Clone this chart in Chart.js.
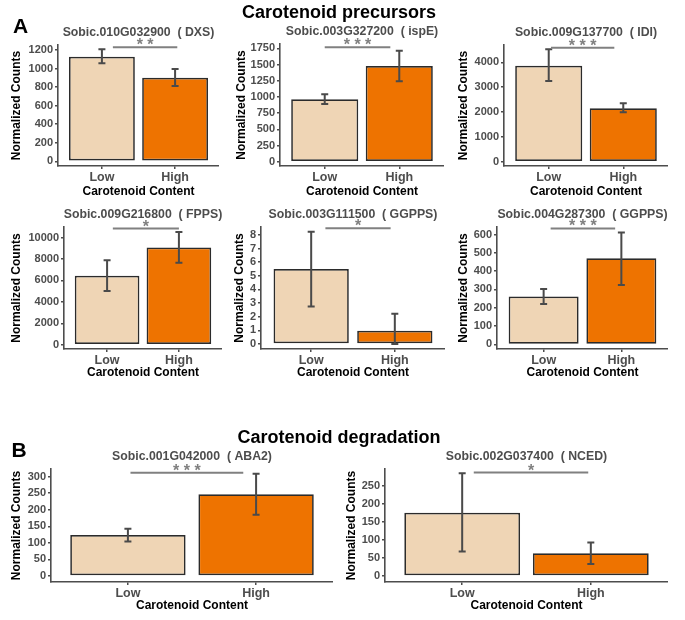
<!DOCTYPE html>
<html><head><meta charset="utf-8">
<script src="https://cdn.jsdelivr.net/npm/chart.js@4.4.1/dist/chart.umd.min.js"></script>
<style>
html,body{margin:0;padding:0;background:#fff;}
body{width:685px;height:620px;position:relative;overflow:hidden;font-family:"Liberation Sans",Arial,sans-serif;}
canvas{position:absolute;}
.lbl{position:absolute;font-weight:bold;line-height:1;white-space:nowrap;color:#000;z-index:2;}
</style></head><body>
<div class="lbl" style="left:13px;top:15px;font-size:21px">A</div>
<div class="lbl" style="left:11.5px;top:439px;font-size:21px">B</div>
<div class="lbl" style="top:3px;left:0;width:678px;text-align:center;font-size:18px">Carotenoid precursors</div>
<div class="lbl" style="top:427.7px;left:0;width:678px;text-align:center;font-size:18px">Carotenoid degradation</div>
<script>
// ---------- data ----------
const categories = ['Low', 'High'];
const genes = ['Sobic.010G032900','Sobic.003G327200','Sobic.009G137700','Sobic.009G216800','Sobic.003G111500','Sobic.004G287300','Sobic.001G042000','Sobic.002G037400'];
const geneNames = ['DXS','ispE','IDI','FPPS','GGPPS','GGPPS','ABA2','NCED'];
const lowMean    = [1127, 962, 3863, 6435, 5.5, 261, 124, 175];
const lowErrMin  = [1056, 890, 3247, 5014, 2.75, 221, 104, 68];
const lowErrMax  = [1207, 1040, 4523, 7892, 8.24, 303, 143, 284];
const highMean   = [901, 1475, 2149, 9071, 0.97, 470, 247, 63];
const highErrMin = [812, 1240, 1988, 7642, 0, 324, 185, 33];
const highErrMax = [995, 1710, 2350, 10520, 2.22, 611, 309, 93];
const significance = ['* *','* * *','* * *','*','*','* * *','* * *','*'];
const bracketLevel = [1229, 1765, 4588, 10836, 8.49, 633, 312, 286];
const bracketFrom = [1.15, 1.0, 1.03, 1.08, 1.17, 1.09, 1.02, 1.09];
const bracketTo   = [2.03, 1.88, 1.88, 2.0, 1.95, 1.92, 1.9, 1.98];
const yMin = [-51, -66, -173, -399, -0.37, -25, -18, -16.6];
const yMax = [1254, 1816, 4696, 10984, 8.58, 641, 323, 296];
const yTicks = [
  [0,200,400,600,800,1000,1200],
  [0,250,500,750,1000,1250,1500,1750],
  [0,1000,2000,3000,4000],
  [0,2000,4000,6000,8000,10000],
  [0,1,2,3,4,5,6,7,8],
  [0,100,200,300,400,500,600],
  [0,50,100,150,200,250,300],
  [0,50,100,150,200,250]
];
const yTitle = 'Normalized Counts';
const xTitle = 'Carotenoid Content';

// ---------- layout (page px): plot left, top, right, bottom, canvas left, canvas bottom ----------
const boxes = [
  [58,45,219,166,9,199],
  [280,44,444,166,234,199],
  [504,45,668,166,456,199],
  [64,227,222,349,9,380],
  [261,227,445,349,232,380],
  [497,227,668,349,456,380],
  [51,469,333,582,9,613],
  [385,469,668,582,344,613]
];
const PADTOP = 26;
const FONT = '"Liberation Sans", Arial, sans-serif';
Chart.defaults.font.family = FONT;

const annot = {
  id: 'annot',
  afterDatasetsDraw(chart, args, opts) {
    const i = opts.idx;
    const xs = chart.scales.x, ys = chart.scales.y, ctx = chart.ctx;
    ctx.save();
    ctx.strokeStyle = '#4a4a4a'; ctx.lineWidth = 2;
    const errs = [[lowErrMin[i], lowErrMax[i]], [highErrMin[i], highErrMax[i]]];
    errs.forEach((e, k) => {
      const x = xs.getPixelForValue(k + 1);
      const y1 = ys.getPixelForValue(e[0]), y2 = ys.getPixelForValue(e[1]);
      ctx.beginPath();
      ctx.moveTo(x, y1); ctx.lineTo(x, y2);
      ctx.moveTo(x - 3.5, y1); ctx.lineTo(x + 3.5, y1);
      ctx.moveTo(x - 3.5, y2); ctx.lineTo(x + 3.5, y2);
      ctx.stroke();
    });
    const by = ys.getPixelForValue(bracketLevel[i]);
    const bx1 = xs.getPixelForValue(bracketFrom[i]), bx2 = xs.getPixelForValue(bracketTo[i]);
    ctx.strokeStyle = '#808080'; ctx.lineWidth = 2;
    ctx.beginPath(); ctx.moveTo(bx1, by); ctx.lineTo(bx2, by); ctx.stroke();
    ctx.fillStyle = '#808080'; ctx.font = 'bold 16px ' + FONT;
    ctx.textAlign = 'center'; ctx.textBaseline = 'alphabetic';
    ctx.fillText(significance[i], (bx1 + bx2) / 2, by + 3);
    ctx.fillStyle = '#4d4d4d'; ctx.font = 'bold 12.3px ' + FONT;
    ctx.fillText(genes[i] + '  ( ' + geneNames[i] + ')', (chart.chartArea.left + chart.chartArea.right) / 2, chart.chartArea.top - 9);
    ctx.restore();
  }
};

boxes.forEach((b, i) => {
  const [L, T, R, B, cx, cb] = b;
  const cy = T - PADTOP;
  const cv = document.createElement('canvas');
  const w = R - cx, h = cb - cy;
  cv.width = w; cv.height = h;
  cv.style.left = cx + 'px'; cv.style.top = cy + 'px';
  cv.style.width = w + 'px'; cv.style.height = h + 'px';
  document.body.appendChild(cv);
  const yw = L - cx, xh = cb - B;
  const axisCol = '#4d4d4d';
  new Chart(cv, {
    type: 'bar',
    data: {
      datasets: [{
        data: [{x: 1, y: lowMean[i]}, {x: 2, y: highMean[i]}],
        backgroundColor: ['#EFD5B5', '#EE7300'],
        borderColor: '#2b2b2b',
        borderWidth: 1.7,
        borderSkipped: false,
        barPercentage: 0.9,
        categoryPercentage: 1.0
      }]
    },
    options: {
      responsive: false,
      maintainAspectRatio: false,
      animation: false,
      layout: {padding: {top: PADTOP, left: 0, right: 0, bottom: 0}},
      plugins: {legend: {display: false}, tooltip: {enabled: false}, title: {display: false}, annot: {idx: i}},
      scales: {
        x: {
          type: 'linear', min: 0.4, max: 2.6, offset: false,
          afterBuildTicks: s => { s.ticks = categories.map((c, k) => ({value: k + 1})); },
          afterFit: s => { s.height = xh; },
          ticks: {
            callback: v => categories[Math.round(v) - 1],
            font: {size: 12.5, weight: 'bold'}, color: '#4d4d4d', padding: 1,
            autoSkip: false, maxRotation: 0, minRotation: 0
          },
          grid: {display: true, offset: false, drawOnChartArea: false, drawTicks: true, tickLength: 3, color: axisCol, lineWidth: 1.5},
          border: {display: true, color: axisCol, width: 1.6},
          title: {display: true, text: xTitle, color: '#000', font: {size: 12, weight: 'bold'}, padding: 0}
        },
        y: {
          type: 'linear', min: yMin[i], max: yMax[i],
          afterBuildTicks: s => { s.ticks = yTicks[i].map(v => ({value: v})); },
          afterFit: s => { s.width = yw; },
          ticks: {
            callback: v => String(v),
            font: {size: 11, weight: 'bold'}, color: '#4d4d4d', padding: 2, autoSkip: false
          },
          grid: {display: true, drawOnChartArea: false, drawTicks: true, tickLength: 3, color: axisCol, lineWidth: 1.5},
          border: {display: true, color: axisCol, width: 1.6},
          title: {display: true, text: yTitle, color: '#000', font: {size: 12, weight: 'bold'}, padding: 0}
        }
      }
    },
    plugins: [annot]
  });
});
</script>
</body></html>
